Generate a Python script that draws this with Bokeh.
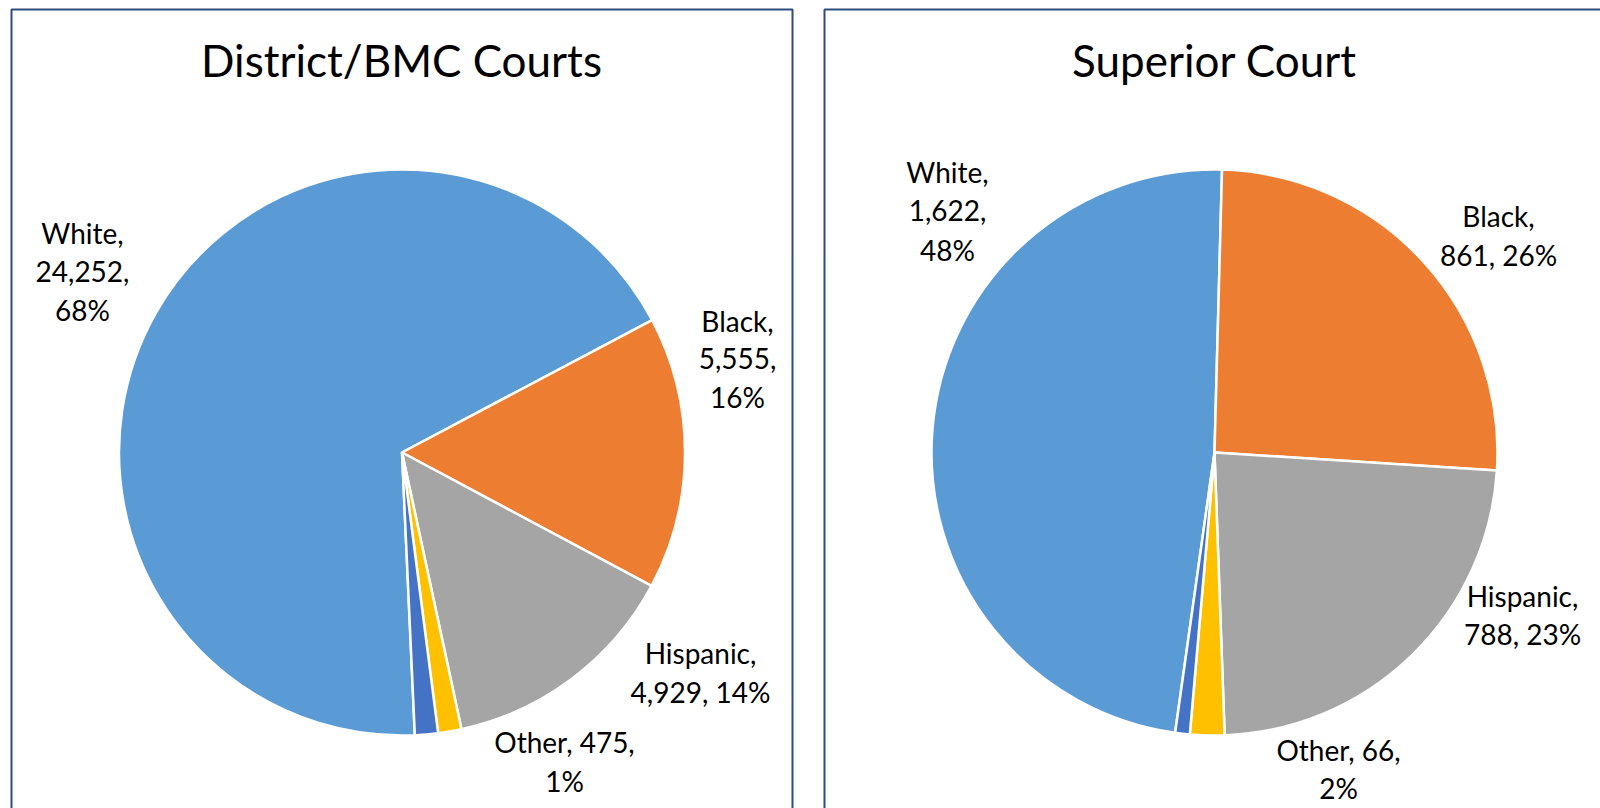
import math
from bokeh.plotting import figure
from bokeh.models import Range1d, ColumnDataSource
from bokeh.core.properties import value
from bokeh.embed import file_html
from bokeh.resources import INLINE

# ---------------- data ----------------
categories = ["White", "Black", "Hispanic", "Other", "Asian"]
district_values = [24252, 5555, 4929, 475, 470]
superior_values = [1622, 861, 788, 66, 28]
colors = ["#5B9BD5", "#ED7D31", "#A5A5A5", "#FFC000", "#4472C4"]
titles = ["District/BMC Courts", "Superior Court"]
labelled = [True, True, True, True, False]

# ---------------- layout (page pixels, top-left origin) ----------------
W, H = 1600, 808
OFF = 0
TITLE_SHIFT = 20   # correction of the text baseline placement
LABEL_SHIFT = 11

def px(X):
    return X - OFF

def py(Y):
    return H + OFF - Y

panels = [
    dict(values=district_values, title=titles[0], cx=401.5, cy=452, r=283, start=177.4,
         left=11, right=792, title_x=401,
         labels={"White": (82, [243, 282, 320], [[0], [1], [2]]),
                 "Black": (737, [331, 369, 407], [[0], [1], [2]]),
                 "Hispanic": (700, [663, 702], [[0], [1, 2]]),
                 "Other": (564, [752, 791], [[0, 1], [2]])}),
    dict(values=superior_values, title=titles[1], cx=1214, cy=452, r=283, start=188.0,
         left=824, right=1620, title_x=1214,
         labels={"White": (947, [182, 221, 260], [[0], [1], [2]]),
                 "Black": (1498, [226, 265], [[0], [1, 2]]),
                 "Hispanic": (1522, [606, 644], [[0], [1, 2]]),
                 "Other": (1338, [760, 798], [[0, 1], [2]])}),
]

p = figure(width=W, height=H, output_backend="svg", toolbar_location=None,
           x_range=Range1d(0, W), y_range=Range1d(0, H), min_border=0,
           background_fill_color="white", border_fill_color="white")
p.axis.visible = False
p.grid.visible = False
p.outline_line_color = None

FONT = "Lato"

for pn in panels:
    # panel frame
    p.quad(left=[px(pn["left"])], right=[px(pn["right"])], top=[py(9)], bottom=[-20],
           fill_color="white", line_color="#2F4B7C", line_width=2)
    # title
    p.text(x=[px(pn["title_x"])], y=[py(79 - TITLE_SHIFT)], text=[pn["title"]],
           text_font=value(FONT), text_font_size="44px", text_align="center",
           text_baseline="alphabetic", text_color="black")

    vals = pn["values"]
    total = float(sum(vals))
    theta = pn["start"]
    starts, ends = [], []
    for v in vals:
        span = v / total * 360.0
        t1, t2 = theta, theta + span
        # clockwise-from-top -> math angle
        starts.append(math.radians(90 - t2))
        ends.append(math.radians(90 - t1))
        theta = t2
    src = ColumnDataSource(dict(start=starts, end=ends, color=colors, cat=categories,
                                val=vals))
    p.wedge(x=px(pn["cx"]), y=py(pn["cy"]), radius=pn["r"], start_angle="start",
            end_angle="end", fill_color="color", line_color="white", line_width=2.5,
            source=src)

    # labels
    xs, ys, ts = [], [], []
    for cat, v, show in zip(categories, vals, labelled):
        if not show:
            continue
        pct = round(v / total * 100)
        parts = [f"{cat},", f"{v:,},", f"{pct}%"]
        lx, baselines, groups = pn["labels"][cat]
        for by, g in zip(baselines, groups):
            xs.append(px(lx))
            ys.append(py(by - LABEL_SHIFT))
            ts.append(" ".join(parts[i] for i in g))
    p.text(x=xs, y=ys, text=ts, text_font=value(FONT), text_font_size="28px",
           text_align="center", text_baseline="alphabetic", text_color="black")

open("out.html", "w").write(file_html(p, INLINE))
